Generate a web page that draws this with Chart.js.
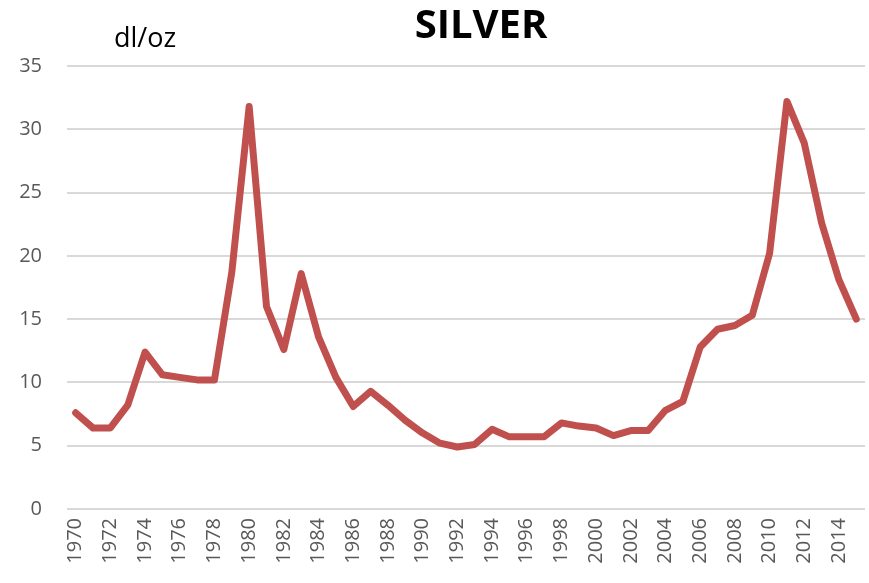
<!DOCTYPE html>
<html>
<head>
<meta charset="utf-8">
<script src="https://cdn.jsdelivr.net/npm/chart.js@4/dist/chart.umd.min.js"></script>
<style>
  body { margin: 0; background: #fff; }
  canvas { display: block; }
</style>
</head>
<body>
<canvas id="myChart" width="869" height="583"></canvas>
<script>
// silver price, dl/oz, one value per year
var years = [];
for (let y = 1970; y <= 2015; y++) years.push(String(y));

var silver = [7.6, 6.4, 6.4, 8.2, 12.4, 10.6, 10.4, 10.2, 10.2, 18.7,
              31.8, 16.0, 12.6, 18.6, 13.6, 10.4, 8.1, 9.3, 8.2, 7.0,
              6.0, 5.2, 4.9, 5.1, 6.3, 5.7, 5.7, 5.7, 6.8, 6.55,
              6.4, 5.8, 6.2, 6.2, 7.8, 8.5, 12.8, 14.2, 14.5, 15.3,
              20.2, 32.2, 28.9, 22.6, 18.1, 15.0];

var yTicks = [0, 5, 10, 15, 20, 25, 30, 35];

var titleText = 'SILVER';
var unitText = 'dl/oz';

const ctx = document.getElementById('myChart').getContext('2d');

// title and unit label
const textPlugin = {
    id: 'texts',
    afterDraw(chart) {
        const c = chart.ctx;
        c.save();
        c.fillStyle = '#000';
        c.textAlign = 'center';
        c.textBaseline = 'alphabetic';
        c.font = 'bold 40px "Open Sans"';
        c.fillText(titleText, 481, 38);
        c.font = '27px "Open Sans"';
        c.fillText(unitText, 145, 47);
        c.restore();
    }
};

const myChart = new Chart(ctx, {
    type: 'line',
    data: {
        labels: years,
        datasets: [{
            label: 'Silver',
            data: silver,
            borderColor: '#C0504D',
            backgroundColor: '#C0504D',
            borderWidth: 7,
            borderJoinStyle: 'round',
            borderCapStyle: 'round',
            pointRadius: 0,
            tension: 0,
            fill: false
        }]
    },
    options: {
        responsive: false,
        animation: false,
        layout: { padding: { top: 66, right: 4, left: 0, bottom: 0 } },
        plugins: {
            legend: { display: false },
            tooltip: { enabled: false }
        },
        scales: {
            x: {
                offset: true,
                grid: { display: false, drawTicks: false },
                border: { display: false },
                ticks: {
                    autoSkip: false,
                    minRotation: 90,
                    maxRotation: 90,
                    padding: 9,
                    color: '#595959',
                    font: { family: 'Open Sans', size: 20 },
                    callback: function (v, i) { return i % 2 === 0 ? years[i] : ''; }
                },
                afterFit: function (s) {
                    s.height = 74;
                    s.paddingLeft = 0;
                    s.paddingRight = 0;
                }
            },
            y: {
                min: 0,
                max: 35,
                afterBuildTicks: function (s) { s.ticks = yTicks.map(v => ({ value: v })); },
                grid: { color: '#D9D9D9', lineWidth: 2, drawTicks: false },
                border: { display: false },
                ticks: {
                    padding: 25,
                    color: '#595959',
                    font: { family: 'Open Sans', size: 20 }
                },
                afterFit: function (s) { s.width = 67; }
            }
        }
    },
    plugins: [textPlugin]
});
</script>
</body>
</html>
